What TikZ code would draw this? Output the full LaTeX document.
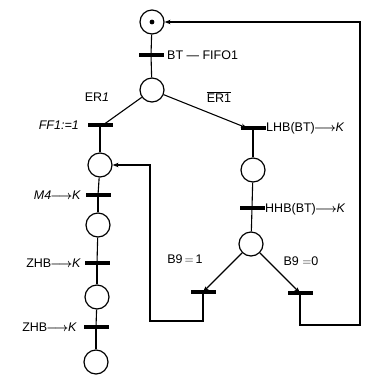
\documentclass[tikz,border=0pt]{standalone}
\usepackage{fontspec}
\setmainfont{Liberation Sans}
\usetikzlibrary{arrows.meta}
\newcommand{\ka}{\hspace{-1pt}$\boldsymbol{\longrightarrow}$\hspace{-0.5pt}}
\usepackage{amsmath,amssymb}
\begin{document}
\begin{tikzpicture}[x=1pt,y=-1pt,
  place/.style={circle,draw,line width=1.2pt,minimum size=24pt,inner sep=0pt},
  tbar/.style={rectangle,fill=black,draw=none,minimum width=25pt,minimum height=3.6pt,inner sep=0pt},
  lbl/.style={font=\fontsize{12.5}{13}\selectfont,inner sep=1pt},
  arc/.style={line width=1.1pt},
  arr/.style={arc,-{Stealth[length=6pt,width=4.5pt]}}]
\useasboundingbox (0,0) rectangle (368,376);
% places
\node[place] (p0) at (152,22) {};
\fill (p0.center) circle (2.4pt);
\node[place] (p1) at (152,90) {};
\node[place] (pL1) at (100,165) {};
\node[place] (pL2) at (98,225) {};
\node[place] (pL3) at (97,297) {};
\node[place] (pL4) at (96,362) {};
\node[place] (pR1) at (253,170) {};
\node[place] (pR2) at (251,244) {};
% transitions
\node[tbar] (t0) at (151,55) {};
\node[tbar] (tL0) at (100,125) {};
\node[tbar] (tL1) at (98,195) {};
\node[tbar] (tL2) at (97,263) {};
\node[tbar] (tL3) at (96,327) {};
\node[tbar] (tR0) at (253,128) {};
\node[tbar] (tR1) at (252,208) {};
\node[tbar] (tB1) at (203,292) {};
\node[tbar] (tB0) at (300,293) {};
% loop corners
\coordinate (a1) at (203,321);
\coordinate (a2) at (150,321);
\coordinate (a3) at (150,165);
\coordinate (b1) at (300,325);
\coordinate (b2) at (360,325);
\coordinate (b3) at (360,22);
% arcs
\draw[arc] (p0) -- (t0);
\draw[arc] (t0) -- (p1);
\draw[arc] (p1) -- ([xshift=3pt]tL0.center);
\draw[arr] (p1) -- ([xshift=-6pt]tR0.center);
\draw[arc] (tL0) -- (pL1);
\draw[arc] (pL1) -- (tL1);
\draw[arc] (tL1) -- (pL2);
\draw[arc] (pL2) -- (tL2);
\draw[arc] (tL2) -- (pL3);
\draw[arc] (pL3) -- (tL3);
\draw[arc] (tL3) -- (pL4);
\draw[arc] (tR0) -- (pR1);
\draw[arc] (pR1) -- (tR1);
\draw[arc] (tR1) -- (pR2);
\draw[arr] (pR2) -- (tB1.center);
\draw[arr] (pR2) -- (tB0.center);
\draw[arr] (tB1.center) -- (a1) -- (a2) -- (a3) -- (pL1);
\draw[arr] (tB0.center) -- (b1) -- (b2) -- (b3) -- (p0);
% labels
\node[lbl,anchor=west] (l0) at (166,55) {BT — FIFO1};
\node[lbl] (l1) at (97,97) {ER\textit{1}};
\node[lbl] (l2) at (219,97) {$\overline{\mbox{ER1}}$};
\node[lbl,anchor=east] (l3) at (80,125) {\textit{FF1:=1}};
\node[lbl,anchor=east] (l4) at (82,195) {\textit{M4}\ka\textit{K}};
\node[lbl,anchor=east] (l5) at (82,263) {ZHB\ka\textit{K}};
\node[lbl,anchor=east] (l6) at (78,327) {ZHB\ka\textit{K}};
\node[lbl,anchor=west] (l7) at (265,128) {LHB(BT)\ka\textit{K}};
\node[lbl,anchor=west] (l8) at (264,209) {HHB(BT)\ka\textit{K}};
\node[lbl] (l9) at (185,259) {B9$\,=\,$1};
\node[lbl] (l10) at (301,261) {B9 $=$0};
\end{tikzpicture}
\end{document}
